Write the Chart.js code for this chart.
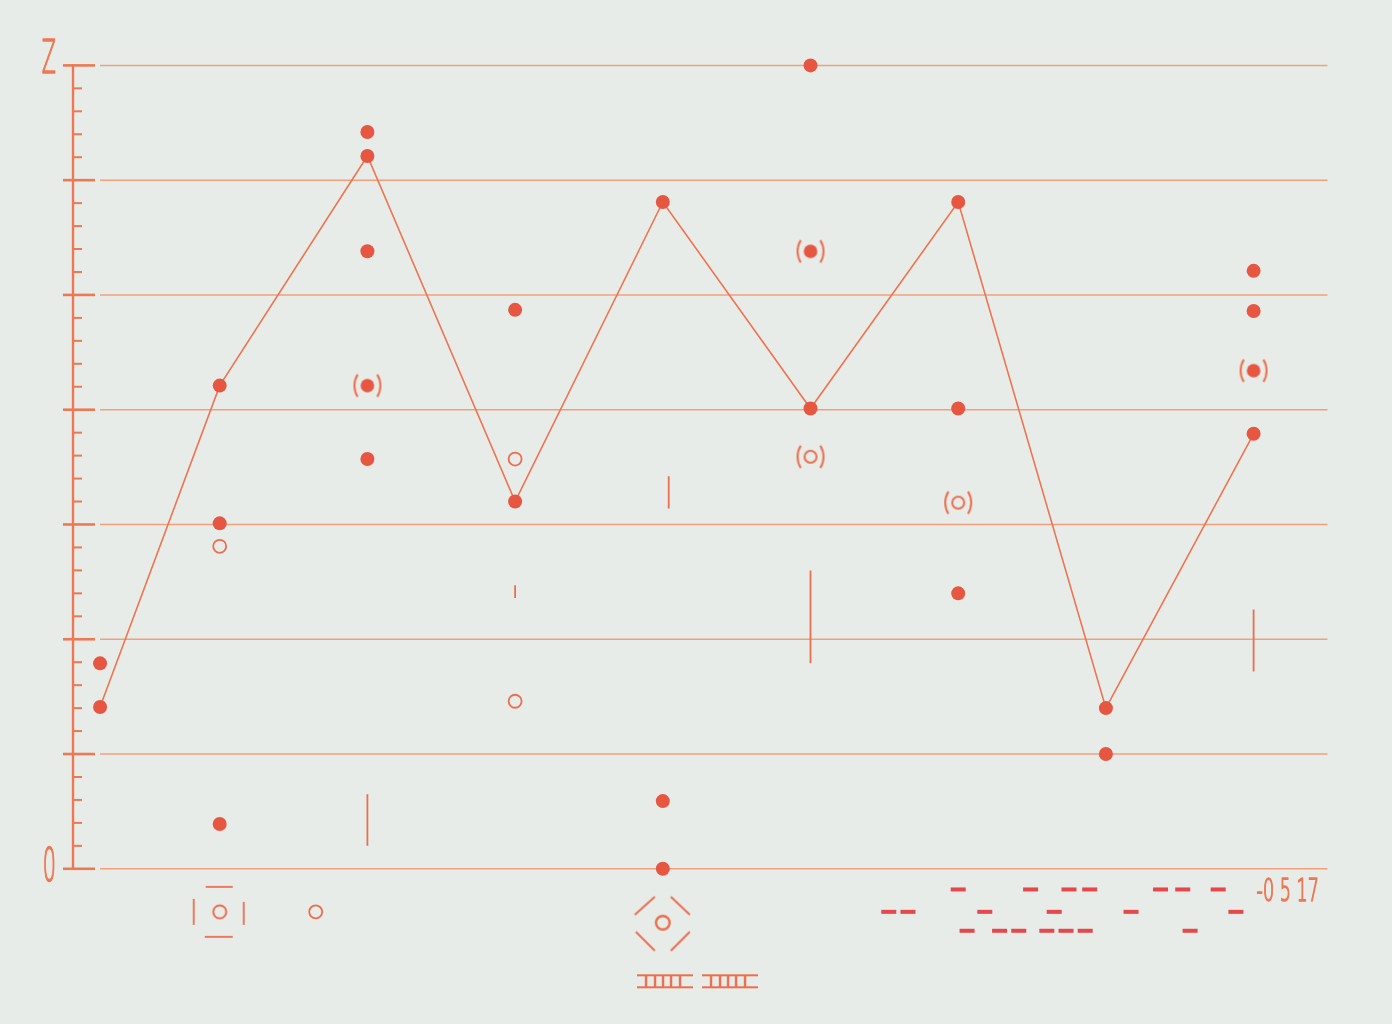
<!DOCTYPE html>
<html>
<head>
<meta charset="utf-8">
<script src="https://cdn.jsdelivr.net/npm/chart.js"></script>
<style>
  html, body { margin: 0; padding: 0; background: #e8edea; }
  #chart { display: block; }
</style>
</head>
<body>
<canvas id="chart" width="1392" height="1024"></canvas>
<script>
// zigzag line, one point per column
const lineX = [0.19, 1, 2, 3, 4, 5, 6, 7, 8];
const lineY = [1.41, 4.21, 6.21, 3.20, 5.81, 4.01, 5.81, 1.40, 3.79];

// loose filled dots
const dotX = [0.19, 1, 1, 2, 2, 2, 3, 4, 4, 5, 6, 6, 7, 8, 8];
const dotY = [1.79, 3.01, 0.39, 6.42, 5.38, 3.57, 4.87, 0.59, 0, 7.0, 4.01, 2.40, 1.0, 5.21, 4.86];

// dots in brackets (filled / open)
const parenDotX = [2, 5, 8];
const parenDotY = [4.21, 5.38, 4.34];
const parenRingX = [5, 6];
const parenRingY = [3.59, 3.19];

// open rings
const ringX = [1, 3, 3, 1.65];
const ringY = [2.81, 3.57, 1.46, -0.375];

// vertical strokes: x, low, high
const barX = [2, 3, 4.04, 5, 8];
const barLo = [0.20, 2.36, 3.14, 1.79, 1.72];
const barHi = [0.65, 2.47, 3.42, 2.60, 2.26];

// signs under the axis
const boxX = [1];
const boxY = [-0.375];
const diamondX = [4];
const diamondY = [-0.47];
const ladderX = [4.015, 4.455];
const ladderY = [-0.98, -0.98];

// dash code, three rows
const codeRowY = [-0.18, -0.375, -0.54];
const codeRow1 = [6.00, 6.49, 6.75, 6.89, 7.37, 7.52, 7.76];
const codeRow2 = [5.53, 5.66, 6.18, 6.65, 7.17, 7.88];
const codeRow3 = [6.06, 6.28, 6.41, 6.60, 6.73, 6.86, 7.57];

// axis
const yMajor = [0, 1, 2, 3, 4, 5, 6, 7];
const yLabelValues = [0, 7];
const yLabels = ['0', 'Z'];
const codeText = '-0 5 17';

const paper = '#e7ece9';
const gridColor = '#f2a07b';
const axisColor = '#ee7853';
const lineColor = '#ef7450';
const dotRed = '#e65641';
const ringColor = '#ec6e4e';
const dashRed = '#e6474a';

function pts(xs, ys) {
  return xs.map((x, i) => ({ x: x, y: ys[i] }));
}

function glyph(w, h, paint) {
  const c = document.createElement('canvas');
  c.width = w;
  c.height = h;
  const g = c.getContext('2d');
  paint(g, w / 2, h / 2);
  return c;
}

function parens(g, cx, cy) {
  g.strokeStyle = ringColor;
  g.lineWidth = 2;
  g.beginPath(); g.arc(cx + 8, cy, 21, Math.PI - 0.56, Math.PI + 0.56); g.stroke();
  g.beginPath(); g.arc(cx - 8, cy, 21, -0.56, 0.56); g.stroke();
}

function seg(g, x1, y1, x2, y2) {
  g.beginPath(); g.moveTo(x1, y1); g.lineTo(x2, y2); g.stroke();
}

const parenDot = glyph(36, 30, (g, cx, cy) => {
  parens(g, cx, cy);
  g.fillStyle = dotRed;
  g.beginPath(); g.arc(cx, cy, 6.8, 0, Math.PI * 2); g.fill();
});

const parenRing = glyph(36, 30, (g, cx, cy) => {
  parens(g, cx, cy);
  g.strokeStyle = ringColor;
  g.lineWidth = 2;
  g.beginPath(); g.arc(cx, cy, 6, 0, Math.PI * 2); g.stroke();
});

const boxSign = glyph(60, 60, (g, cx, cy) => {
  g.strokeStyle = ringColor;
  g.lineWidth = 1.8;
  seg(g, cx - 26, cy - 13, cx - 26, cy + 13);
  seg(g, cx + 24, cy - 10, cx + 24, cy + 13);
  seg(g, cx - 14, cy - 25, cx + 13, cy - 25);
  seg(g, cx - 15, cy + 25, cx + 13, cy + 25);
  g.lineWidth = 2;
  g.beginPath(); g.arc(cx, cy, 6.5, 0, Math.PI * 2); g.stroke();
});

const diamondSign = glyph(64, 64, (g, cx, cy) => {
  g.strokeStyle = ringColor;
  g.lineWidth = 2;
  seg(g, cx - 28, cy - 8, cx - 8, cy - 26);
  seg(g, cx + 8, cy - 26, cx + 27, cy - 8);
  seg(g, cx - 27, cy + 9, cx - 8, cy + 28);
  seg(g, cx + 27, cy + 9, cx + 8, cy + 28);
  g.lineWidth = 2.4;
  g.beginPath(); g.arc(cx, cy, 6.8, 0, Math.PI * 2); g.stroke();
});

const ladderSign = glyph(56, 16, (g, cx, cy) => {
  g.strokeStyle = ringColor;
  g.lineWidth = 2;
  seg(g, 0, 2, 56, 2);
  seg(g, 0, 14, 56, 14);
  g.lineWidth = 2.4;
  [9, 18, 26, 34, 43].forEach(v => seg(g, v, 2, v, 14));
});

// vertical strokes as broken line pieces
const barPts = [];
barX.forEach((x, i) => {
  barPts.push({ x: x, y: barLo[i] }, { x: x, y: barHi[i] }, { x: x, y: null });
});

const codePts = []
  .concat(codeRow1.map(x => ({ x: x, y: codeRowY[0] })))
  .concat(codeRow2.map(x => ({ x: x, y: codeRowY[1] })))
  .concat(codeRow3.map(x => ({ x: x, y: codeRowY[2] })));

function narrowText(ctx, text, x, y, size, squeeze, align) {
  ctx.save();
  ctx.translate(x, y);
  ctx.scale(squeeze, 1);
  ctx.font = '200 ' + size + 'px "DejaVu Sans", "Liberation Sans Narrow", sans-serif';
  ctx.textAlign = align;
  ctx.textBaseline = 'middle';
  ctx.fillStyle = axisColor;
  ctx.strokeStyle = axisColor;
  ctx.lineWidth = 1.6;
  ctx.lineJoin = 'round';
  ctx.fillText(text, 0, 0);
  ctx.strokeText(text, 0, 0);
  ctx.restore();
}

const ruler = {
  id: 'ruler',
  beforeDraw(chart) {
    const ctx = chart.ctx;
    ctx.save();
    ctx.fillStyle = paper;
    ctx.fillRect(0, 0, chart.width, chart.height);
    ctx.restore();
  },
  beforeDatasetsDraw(chart) {
    const { ctx, scales: { x, y } } = chart;
    const ax = x.getPixelForValue(0) + 1;
    ctx.save();
    // grid
    ctx.strokeStyle = gridColor;
    ctx.lineWidth = 1.5;
    yMajor.forEach(v => {
      const py = y.getPixelForValue(v);
      seg(ctx, x.getPixelForValue(0.19), py, x.getPixelForValue(8.5), py);
    });
    // axis ruler
    ctx.strokeStyle = axisColor;
    ctx.lineWidth = 2.4;
    seg(ctx, ax, y.getPixelForValue(0) + 1, ax, y.getPixelForValue(7) - 1);
    for (let v = 0; v <= 7.001; v += 0.2) {
      const py = y.getPixelForValue(v);
      const major = Math.abs(v - Math.round(v)) < 0.01;
      if (major) {
        ctx.lineWidth = 2.6;
        seg(ctx, ax - 10, py, ax + 22, py);
      } else {
        ctx.lineWidth = 2;
        seg(ctx, ax, py, ax + 9, py);
      }
    }
    // labels
    yLabelValues.forEach((v, i) => {
      const py = y.getPixelForValue(v) + (v === 7 ? -4 : 0);
      narrowText(ctx, yLabels[i], ax - 17, py, 46, 0.45, 'right');
    });
    narrowText(ctx, codeText, x.getPixelForValue(8.02), y.getPixelForValue(-0.21), 32, 0.55, 'left');
    ctx.restore();
  }
};

new Chart(document.getElementById('chart'), {
  type: 'scatter',
  data: {
    datasets: [
      {
        type: 'line',
        data: barPts,
        borderColor: ringColor,
        borderWidth: 1.8,
        pointRadius: 0,
        spanGaps: false,
        order: 5
      },
      {
        type: 'line',
        data: pts(lineX, lineY),
        borderColor: lineColor,
        borderWidth: 1.6,
        tension: 0,
        pointRadius: 7,
        pointBackgroundColor: dotRed,
        pointBorderWidth: 0,
        order: 4
      },
      {
        data: pts(dotX, dotY),
        pointRadius: 7,
        backgroundColor: dotRed,
        borderWidth: 0,
        order: 3
      },
      {
        data: pts(parenDotX, parenDotY),
        pointStyle: parenDot,
        order: 3
      },
      {
        data: pts(parenRingX, parenRingY),
        pointStyle: parenRing,
        order: 3
      },
      {
        data: pts(ringX, ringY),
        pointRadius: 6.5,
        backgroundColor: 'rgba(0,0,0,0)',
        borderColor: ringColor,
        borderWidth: 1.8,
        order: 3
      },
      {
        data: pts(boxX, boxY),
        pointStyle: boxSign,
        order: 3
      },
      {
        data: pts(diamondX, diamondY),
        pointStyle: diamondSign,
        order: 3
      },
      {
        data: pts(ladderX, ladderY),
        pointStyle: ladderSign,
        order: 3
      },
      {
        data: codePts,
        pointStyle: 'line',
        pointRadius: 7.5,
        borderColor: dashRed,
        borderWidth: 4,
        order: 3
      }
    ]
  },
  options: {
    responsive: false,
    animation: false,
    events: [],
    layout: { autoPadding: false, padding: { left: 72, right: 35, top: 8, bottom: 6 } },
    scales: {
      x: { type: 'linear', min: 0, max: 8.7, display: false },
      y: { type: 'linear', min: -1.3, max: 7.5, display: false }
    },
    plugins: {
      legend: { display: false },
      tooltip: { enabled: false }
    }
  },
  plugins: [ruler]
});
</script>
</body>
</html>
